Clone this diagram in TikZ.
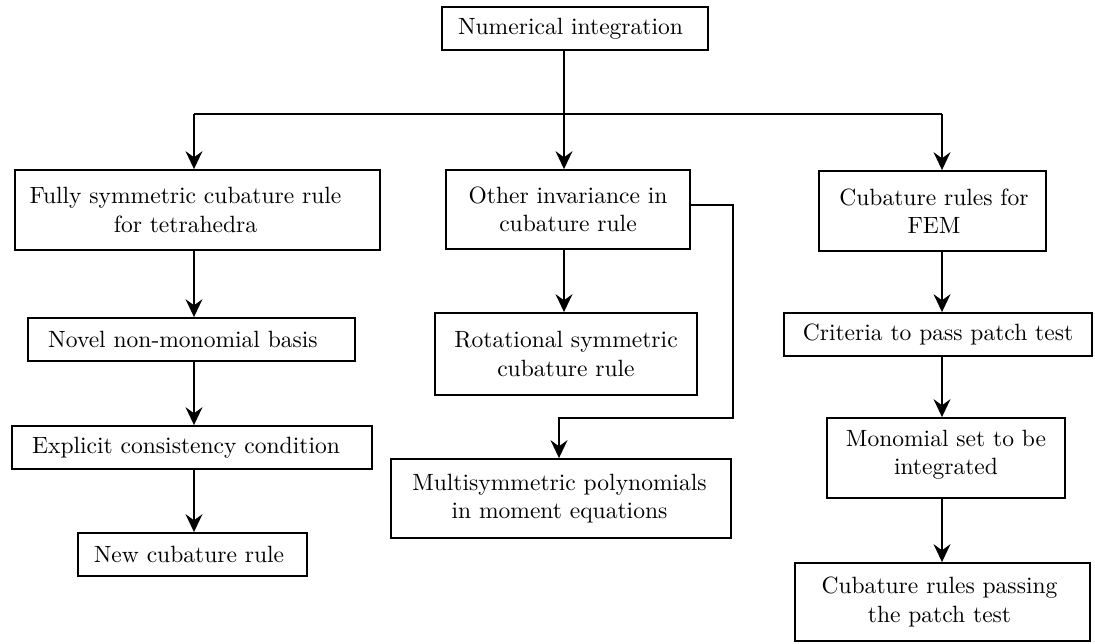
\documentclass[tikz,border=0pt]{standalone}
\usetikzlibrary{arrows.meta}
% one drawing unit in points
\def\pxu{0.425pt}
\begin{document}
\begin{tikzpicture}[x=0.425pt, y=-0.425pt,
  box/.style={draw, line width=0.8pt, inner sep=0pt},
  lbl/.style={align=center, inner sep=0pt},
  arr/.style={line width=0.8pt, -{Stealth[length=7.6pt, width=7.2pt, inset=2.6pt]}},
  wire/.style={line width=0.8pt}]
\useasboundingbox (0,0) rectangle (1095,643);

% frames
\node[box, minimum width={266*\pxu}, minimum height={43*\pxu}] (root) at (575,28.5) {};
\node[box, minimum width={365*\pxu}, minimum height={80*\pxu}] (fully) at (197.5,210) {};
\node[box, minimum width={327*\pxu}, minimum height={43*\pxu}] (novel) at (191.5,339.5) {};
\node[box, minimum width={360*\pxu}, minimum height={43*\pxu}] (explicit) at (192,447.5) {};
\node[box, minimum width={229*\pxu}, minimum height={43*\pxu}] (newrule) at (192.5,554.5) {};
\node[box, minimum width={244*\pxu}, minimum height={79*\pxu}] (other) at (568,209.5) {};
\node[box, minimum width={262*\pxu}, minimum height={82*\pxu}] (rot) at (566,354) {};
\node[box, minimum width={340*\pxu}, minimum height={79*\pxu}] (multi) at (561,498.5) {};
\node[box, minimum width={227*\pxu}, minimum height={80*\pxu}] (fem) at (932.5,211) {};
\node[box, minimum width={308*\pxu}, minimum height={43*\pxu}] (criteria) at (938,334.5) {};
\node[box, minimum width={238*\pxu}, minimum height={80*\pxu}] (monomial) at (946,458) {};
\node[box, minimum width={295*\pxu}, minimum height={78*\pxu}] (passing) at (942.5,602) {};

% texts
\node[lbl] (troot) at ([xshift={-4.5*\pxu}]root.center) {Numerical integration};
\node[lbl] (tfully) at ([xshift={-12*\pxu}]fully.center) {Fully symmetric cubature rule\\for tetrahedra};
\node[lbl] (tnovel) at ([xshift={-8.5*\pxu}]novel.center) {Novel non-monomial basis};
\node[lbl] (texplicit) at ([xshift={-6*\pxu}]explicit.center) {Explicit consistency condition};
\node[lbl] (tnewrule) at ([xshift={-3.5*\pxu}]newrule.center) {New cubature rule};
\node[lbl] (tother) at (other.center) {Other invariance in\\cubature rule};
\node[lbl] (trot) at (rot.center) {Rotational symmetric\\cubature rule};
\node[lbl] (tmulti) at ([xshift={-1.5*\pxu}]multi.center) {Multisymmetric polynomials\\in moment equations};
\node[lbl] (tfem) at ([xshift={1.5*\pxu}]fem.center) {Cubature rules for\\FEM};
\node[lbl] (tcriteria) at (criteria.center) {Criteria to pass patch test};
\node[lbl] (tmonomial) at ([yshift={3*\pxu}]monomial.center) {Monomial set to be\\integrated};
\node[lbl] (tpassing) at ([xshift={-3*\pxu}]passing.center) {Cubature rules passing\\the patch test};

% column axes and junctions
\coordinate (colL) at (194,0);
\coordinate (colM) at (564,0);
\coordinate (colR) at (942,0);
\coordinate (bus) at (564,114);
\coordinate (busL) at (194,114);
\coordinate (busR) at (942,114);
\coordinate (bend) at (733,418);

% distribution from the root
\draw[wire] (root.south -| colM) -- (bus);
\draw[wire] (busL) -- (busR);
\draw[arr] (busL) -- (fully.north -| colL);
\draw[arr] (bus) -- (other.north -| colM);
\draw[arr] (busR) -- (fem.north -| colR);

% left column
\draw[arr] (fully.south -| colL) -- (novel.north -| colL);
\draw[arr] (novel.south -| colL) -- (explicit.north -| colL);
\draw[arr] (explicit.south -| colL) -- (newrule.north -| colL);

% middle column
\draw[arr] (other.south -| colM) -- (rot.north -| colM);
\draw[arr] ([yshift={4.5*\pxu}]other.east) -| (bend) -| ([xshift={-2*\pxu}]multi.north);

% right column
\draw[arr] (fem.south -| colR) -- (criteria.north -| colR);
\draw[arr] (criteria.south -| colR) -- (monomial.north -| colR);
\draw[arr] (monomial.south -| colR) -- (passing.north -| colR);
\end{tikzpicture}
\end{document}
